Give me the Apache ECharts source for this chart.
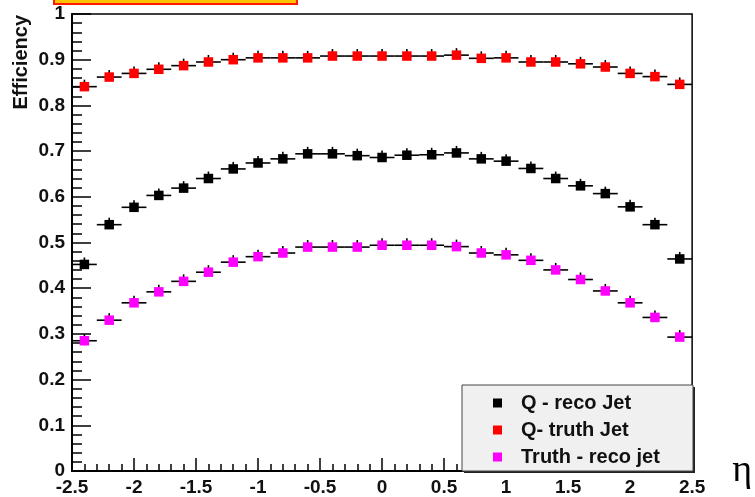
<!DOCTYPE html>
<html>
<head>
<meta charset="utf-8">
<script src="https://cdn.jsdelivr.net/npm/echarts@6/dist/echarts.min.js"></script>
<style>
  html, body { margin: 0; padding: 0; background: #fff; }
  #chart { width: 755px; height: 497px; }
</style>
</head>
<body>
<div id="chart"></div>
<script>
// Bin centres in eta (bin width 0.2)
const etaBins = [-2.4, -2.2, -2.0, -1.8, -1.6, -1.4, -1.2, -1.0, -0.8, -0.6, -0.4, -0.2, 0.0,
                 0.2, 0.4, 0.6, 0.8, 1.0, 1.2, 1.4, 1.6, 1.8, 2.0, 2.2, 2.4];
const halfBin = 0.1;

// Efficiency per bin
const qRecoJet = [0.452, 0.539, 0.577, 0.603, 0.619, 0.640, 0.661, 0.674, 0.683, 0.694, 0.694, 0.690, 0.686,
                  0.691, 0.692, 0.696, 0.683, 0.678, 0.662, 0.640, 0.624, 0.607, 0.578, 0.539, 0.464];
const qTruthJet = [0.841, 0.862, 0.870, 0.879, 0.887, 0.895, 0.900, 0.904, 0.904, 0.904, 0.908, 0.908, 0.908,
                   0.908, 0.908, 0.910, 0.903, 0.904, 0.895, 0.895, 0.891, 0.884, 0.870, 0.863, 0.846];
const truthRecoJet = [0.285, 0.330, 0.368, 0.392, 0.415, 0.435, 0.457, 0.469, 0.477, 0.490, 0.490, 0.490, 0.494,
                      0.494, 0.494, 0.491, 0.477, 0.473, 0.461, 0.440, 0.419, 0.394, 0.368, 0.336, 0.293];

const seriesNames = ['Q - reco Jet', 'Q- truth Jet', 'Truth - reco jet'];
const seriesColors = ['#000000', '#ff0000', '#ff00ff'];

const xTicks = [-2.5, -2, -1.5, -1, -0.5, 0, 0.5, 1, 1.5, 2, 2.5];
const yTicks = [0, 0.1, 0.2, 0.3, 0.4, 0.5, 0.6, 0.7, 0.8, 0.9, 1];

const labelFont = '"Liberation Sans", Arial, Helvetica, sans-serif';

function pairs(ys) {
  return etaBins.map((x, i) => [x, ys[i]]);
}

// Marker: filled square with a horizontal bar spanning the bin and a short vertical error tick
function renderPoint(params, api) {
  const x = api.value(0);
  const y = api.value(1);
  const c = api.coord([x, y]);
  const l = api.coord([x - halfBin, y]);
  const r = api.coord([x + halfBin, y]);
  const s = 9.5;
  const color = api.visual('color');
  return {
    type: 'group',
    children: [
      { type: 'line', shape: { x1: l[0], y1: c[1], x2: r[0], y2: c[1] },
        style: { stroke: '#000', lineWidth: 1.6 } },
      { type: 'line', shape: { x1: c[0], y1: c[1] - 7, x2: c[0], y2: c[1] },
        style: { stroke: '#000', lineWidth: 1.6 } },
      { type: 'rect', shape: { x: c[0] - s / 2, y: c[1] - s / 2, width: s, height: s },
        style: { fill: color } }
    ]
  };
}

const dataSets = [qRecoJet, qTruthJet, truthRecoJet];

const chart = echarts.init(document.getElementById('chart'), null, { renderer: 'canvas' });

function fmt(v) {
  return String(Math.round(v * 10) / 10);
}

chart.setOption({
  animation: false,
  backgroundColor: '#ffffff',
  grid: {
    left: 72, right: 61, top: 14, bottom: 25,
    show: true, borderColor: '#000', borderWidth: 1.5, backgroundColor: 'transparent'
  },
  xAxis: {
    type: 'value',
    min: xTicks[0], max: xTicks[xTicks.length - 1], interval: 0.5,
    axisLine: { onZero: false, lineStyle: { color: '#000', width: 2 } },
    axisTick: { inside: true, length: 13, lineStyle: { color: '#000', width: 1.5 } },
    minorTick: { show: true, splitNumber: 5, length: 7, lineStyle: { color: '#000', width: 1.5 } },
    splitLine: { show: false },
    axisLabel: {
      margin: 7, color: '#111', fontFamily: labelFont, fontWeight: 'bold', fontSize: 19,
      formatter: fmt
    },
    name: 'η',
    nameLocation: 'end',
    nameGap: 40,
    nameTextStyle: { fontFamily: '"Liberation Serif", "DejaVu Serif", serif', fontSize: 38,
                     color: '#000', verticalAlign: 'middle', padding: [0, 0, 0, 0] }
  },
  yAxis: {
    type: 'value',
    min: yTicks[0], max: yTicks[yTicks.length - 1], interval: 0.1,
    axisLine: { onZero: false, lineStyle: { color: '#000', width: 2 } },
    axisTick: { inside: true, length: 19, lineStyle: { color: '#000', width: 1.5 } },
    minorTick: { show: true, splitNumber: 5, length: 10, lineStyle: { color: '#000', width: 1.5 } },
    splitLine: { show: false },
    axisLabel: {
      margin: 7, color: '#111', fontFamily: labelFont, fontWeight: 'bold', fontSize: 19,
      formatter: fmt
    }
  },
  legend: {
    orient: 'vertical',
    left: 488, top: 388,
    itemWidth: 9, itemHeight: 9, itemGap: 7,
    icon: 'rect',
    data: seriesNames,
    textStyle: { fontFamily: labelFont, fontWeight: 'bold', fontSize: 20, color: '#111',
                 lineHeight: 20, padding: [0, 0, 0, 14] },
    z: 10
  },
  graphic: [
    // legend frame with drop shadow
    { type: 'rect', z: 5, shape: { x: 464, y: 387, width: 231, height: 86 },
      style: { fill: '#222' } },
    { type: 'rect', z: 6, shape: { x: 462, y: 385, width: 231, height: 86 },
      style: { fill: '#f0f0f0', stroke: '#444', lineWidth: 1 } },
    // title box along the top edge
    { type: 'rect', z: 6, shape: { x: 54, y: -12, width: 243, height: 16 },
      style: { fill: '#ffc400', stroke: '#ff1a00', lineWidth: 2 } },
    // y axis title
    { type: 'text', z: 6, x: 21, y: 15, rotation: Math.PI / 2,
      style: { text: 'Efficiency', fontFamily: labelFont, fontWeight: 'bold', fontSize: 20,
               fill: '#111', align: 'right', verticalAlign: 'middle' } }
  ],
  series: dataSets.map((ys, i) => ({
    name: seriesNames[i],
    type: 'custom',
    color: seriesColors[i],
    renderItem: renderPoint,
    encode: { x: 0, y: 1 },
    data: pairs(ys),
    z: 3
  }))
});
</script>
</body>
</html>
